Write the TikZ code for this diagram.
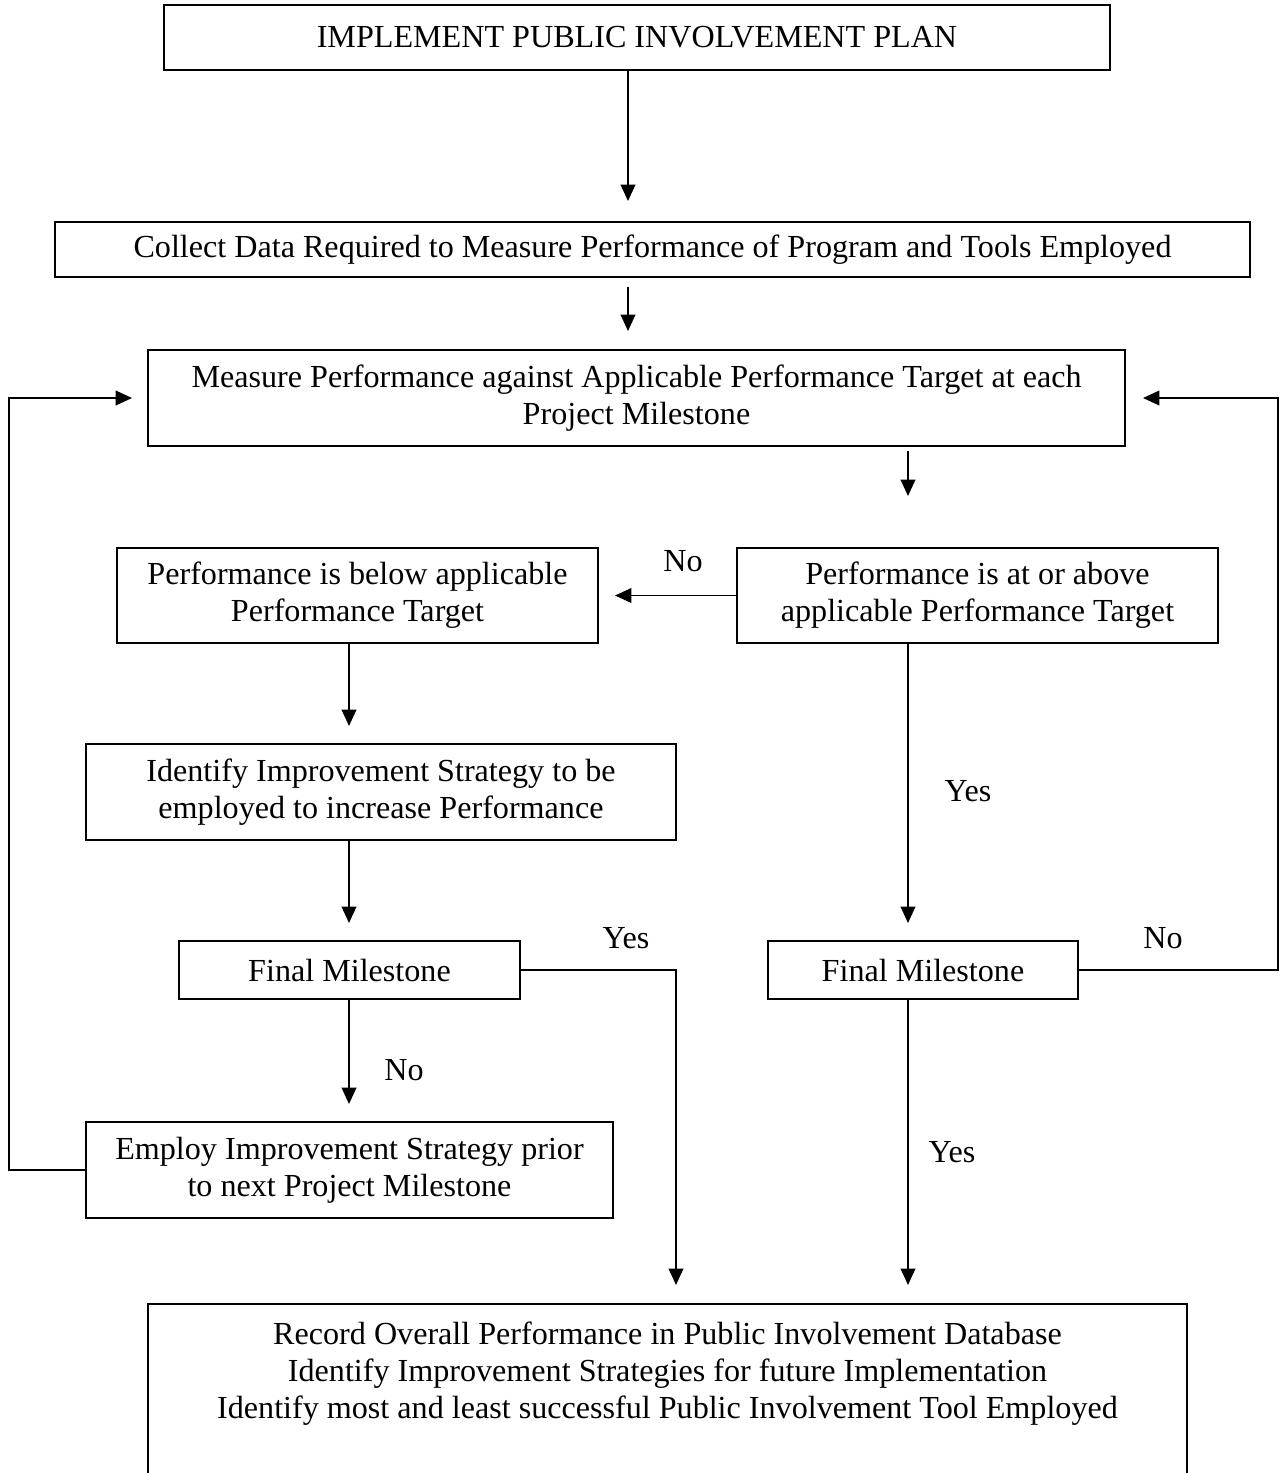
\documentclass[tikz,border=0pt]{standalone}
\usepackage{fontspec}
\setmainfont{Liberation Serif}
\usetikzlibrary{arrows.meta}
\newcommand{\pxu}{0.386pt}

\begin{document}
\begin{tikzpicture}[x=0.386pt,y=-0.386pt,font=\fontsize{12.4}{14.3}\selectfont,
box/.style={draw, line width=0.75pt, align=center, inner sep=0pt},
arr/.style={-{Triangle[length=6.3pt,width=5.6pt]}, line width=0.75pt},
lbl/.style={inner sep=0pt}]
\useasboundingbox (0,0) rectangle (1288,1473);
\clip (0,0) rectangle (1288,1473);
% boxes
\node[box, minimum width=946*\pxu, minimum height=65*\pxu] (implement) at (637,37.5) {IMPLEMENT PUBLIC INVOLVEMENT PLAN};
\node[box, minimum width=1195*\pxu, minimum height=55*\pxu] (collect) at (652.5,249.5) {Collect Data Required to Measure Performance of Program and Tools Employed};
\node[box, minimum width=977*\pxu, minimum height=96*\pxu] (measure) at (636.5,398) {Measure Performance against Applicable Performance Target at each\\Project Milestone};
\node[box, minimum width=481*\pxu, minimum height=95*\pxu] (below) at (357.5,595.5) {Performance is below applicable\\Performance Target};
\node[box, minimum width=481*\pxu, minimum height=95*\pxu] (above) at (977.5,595.5) {Performance is at or above\\applicable Performance Target};
\node[box, minimum width=590*\pxu, minimum height=96*\pxu] (identify) at (381,792) {Identify Improvement Strategy to be\\employed to increase Performance};
\node[box, minimum width=341*\pxu, minimum height=58*\pxu] (finalL) at (349.5,970) {Final Milestone};
\node[box, minimum width=310*\pxu, minimum height=58*\pxu] (finalR) at (923,970) {Final Milestone};
\node[box, minimum width=527*\pxu, minimum height=96*\pxu] (employ) at (349.5,1170) {Employ Improvement Strategy prior\\to next Project Milestone};
\node[box, minimum width=1039*\pxu, minimum height=300*\pxu, inner ysep=7pt, anchor=north] (record) at (667.5,1303) {Record Overall Performance in Public Involvement Database\\Identify Improvement Strategies for future Implementation\\Identify most and least successful Public Involvement Tool Employed\\[3.1cm]};
% columns of the connectors
\coordinate (cmid) at (628,0);
\coordinate (cleft) at (349,0);
\coordinate (cright) at (908,0);
\coordinate (cyes) at (676,0);
\coordinate (cback) at (1278,0);
\coordinate (cloop) at (9,0);
% connectors
\draw[arr, shorten >=20*\pxu] (implement.south -| cmid) -- (collect.north -| cmid);
\draw[arr, shorten <=9*\pxu, shorten >=18*\pxu] (collect.south -| cmid) -- (measure.north -| cmid);
\draw[arr, shorten <=4*\pxu, shorten >=51*\pxu] (measure.south -| cright) -- (above.north -| cright);
\draw[arr, shorten >=16*\pxu] (above.west) -- (below.east);
\draw[arr, shorten >=17*\pxu] (below.south -| cleft) -- (identify.north -| cleft);
\draw[arr, shorten >=17*\pxu] (identify.south -| cleft) -- (finalL.north -| cleft);
\draw[arr, shorten >=17*\pxu] (above.south -| cright) -- (finalR.north -| cright);
\draw[arr, shorten >=17*\pxu] (finalL.south -| cleft) -- (employ.north -| cleft);
\draw[arr, shorten >=18*\pxu] (finalL.east) -| (record.north -| cyes);
\draw[arr, shorten >=18*\pxu] (finalR.south -| cright) -- (record.north -| cright);
\draw[arr, shorten >=17*\pxu] (finalR.east) -| (cback |- measure) -- (measure.east);
\draw[arr, shorten >=15*\pxu] (employ.west) -| (cloop |- measure) -- (measure.west);
% labels
\node[lbl] (noA) at (683,561) {No};
\node[lbl] (yesA) at (968,791) {Yes};
\node[lbl] (yesB) at (626,938) {Yes};
\node[lbl] (noB) at (404,1070) {No};
\node[lbl] (noC) at (1163,938) {No};
\node[lbl] (yesC) at (952,1152) {Yes};
\end{tikzpicture}
\end{document}
